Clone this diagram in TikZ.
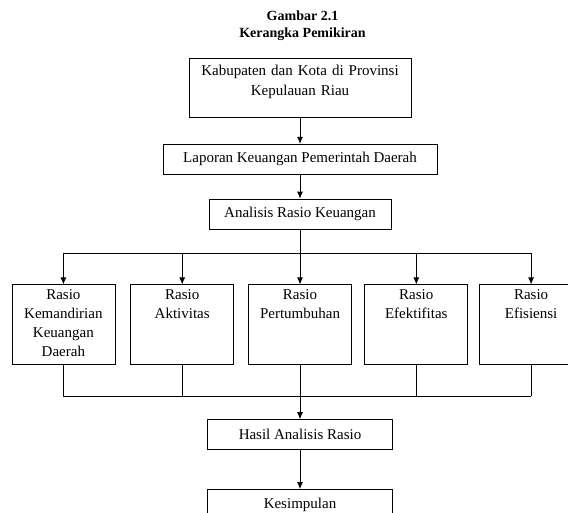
\documentclass[tikz,border=0pt]{standalone}
\usepackage{fontspec}
\setmainfont{Liberation Serif}
\usetikzlibrary{arrows.meta, positioning}

\begin{document}
\begin{tikzpicture}[
	x=1pt, y=1pt,
	node distance = 26pt,
	>={Latex[length=7pt, width=6pt]},
	block/.style = {draw, rectangle, line width=0.8pt, inner sep=0pt, align=center, font=\fontsize{15}{19}\selectfont},
	wide/.style  = {block, minimum height=30pt},
	ratio/.style = {block, text width=103pt, text height=15pt, text depth=65pt},
	title/.style = {align=center, font=\bfseries\fontsize{14}{17}\selectfont},
	line/.style  = {line width=0.8pt}
	]
	\useasboundingbox (0,0) rectangle (568,-512);
	
	\node [title] (title) at (302.5,-26) {Gambar 2.1\\Kerangka Pemikiran};
	\node [block, text width=222pt, text height=17pt, text depth=42pt, anchor=north] (kab) at (300,-58)
	{Kabupaten dan Kota di Provinsi\\[1pt]Kepulauan Riau};
	\node [wide, minimum width=274pt, below=26pt of kab] (lap) {Laporan Keuangan Pemerintah Daerah};
	\node [wide, minimum width=182pt, below=24pt of lap] (ana) {Analisis Rasio Keuangan};
	
	% rasio boxes
	\node [ratio, below=55pt of ana]  (r3) {Rasio\\Pertumbuhan};
	\node [ratio, left=14pt of r3]    (r2) {Rasio\\Aktivitas};
	\node [ratio, left=15pt of r2]    (r1) {Rasio\\Kemandirian\\Keuangan\\Daerah};
	\node [ratio, right=12.5pt of r3] (r4) {Rasio\\Efektifitas};
	\node [ratio, right=11pt of r4]   (r5) {Rasio\\Efisiensi};
	
	\node [wide, minimum width=185pt, below=54pt of r3]    (hasil)  {Hasil Analisis Rasio};
	\node [wide, minimum width=185pt, below=39pt of hasil] (simpul) {Kesimpulan};
	
	%% -- main column
	\draw [line, ->] (kab) -- (lap);
	\draw [line, ->] (lap) -- (ana);
	
	%% -- split to the rasio boxes
	\coordinate [below=24pt of ana.south] (split);
	\draw [line] (ana.south) -- (split);
	\draw [line] (r1.north |- split) -- (r5.north |- split);
	\foreach \r in {r1,r2,r3,r4,r5}
		\draw [line, ->] (\r.north |- split) -- (\r.north);
	
	%% -- join below the rasio boxes
	\coordinate [below=31pt of r3.south] (join);
	\foreach \r in {r1,r2,r4,r5}
		\draw [line] (\r.south) -- (\r.south |- join);
	\draw [line] (r1.south |- join) -- (r5.south |- join);
	\draw [line, ->] (r3) -- (hasil);
	\draw [line, ->] (hasil) -- (simpul);
	
\end{tikzpicture}
\end{document}
